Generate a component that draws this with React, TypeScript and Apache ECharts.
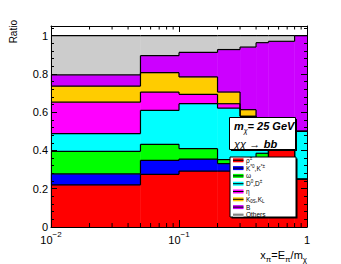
import React, { useEffect, useRef } from 'react';
import * as echarts from 'echarts';

// Bin edges in x = E_pi / m_chi
const binEdges = [0.01, 0.05, 0.1, 0.2, 0.3, 0.4, 0.5, 0.8, 1];

// Fractions per bin (stacked from bottom)
const rhoFrac = [0.22, 0.275, 0.292, 0.292, 0.3, 0.31, 0.4, 0.25];
const kstarFrac = [0.058, 0.073, 0.063, 0.039, 0.03, 0.04, 0, 0];
const omegaFrac = [0.117, 0.084, 0.054, 0.021, 0.02, 0.035, 0, 0];
const dFrac = [0.093, 0.177, 0.235, 0.269, 0.228, 0.175, 0.16, 0.25];
const etaFrac = [0.164, 0.096, 0.049, 0.023, 0, 0, 0, 0];
const k0Frac = [0.084, 0.101, 0.091, 0.061, 0.035, 0, 0, 0];
const bFrac = [0.059, 0.089, 0.128, 0.222, 0.327, 0.403, 0.41, 0.5];
const othersFrac = [0.205, 0.105, 0.088, 0.073, 0.06, 0.037, 0.03, 0];

const seriesNames = ['rho', 'Kstar', 'omega', 'D', 'eta', 'K0', 'B', 'Others'];
const seriesColors = ['#ff0000', '#0000ff', '#00ff00', '#00ffff', '#ff00ff', '#ffcc00', '#cc00ff', '#cccccc'];
const legendLabels = [
  '{m|ρ}{sup|±}',
  '{m|K}{sup|*0}{m|,K}{sup|*±}',
  '{m|ω}',
  '{m|D}{sup|0}{m|,D}{sup|±}',
  '{m|η}',
  '{m|K}{sub|0S}{m|,K}{sub|L}',
  '{m|B}',
  '{m|Others}',
];

// Log-axis tick positions
const xMinorTicks = [0.02, 0.03, 0.04, 0.05, 0.06, 0.07, 0.08, 0.09, 0.2, 0.3, 0.4, 0.5, 0.6, 0.7, 0.8, 0.9];

const FONT = 'Liberation Sans';

export default function App() {
  const ref = useRef<HTMLDivElement>(null);

  useEffect(() => {
    if (!ref.current) return;
    const chart = echarts.init(ref.current, undefined, { renderer: 'svg' });

    const fracs = [rhoFrac, kstarFrac, omegaFrac, dFrac, etaFrac, k0Frac, bFrac, othersFrac];
    const nBins = binEdges.length - 1;
    const cumBottom = new Array(nBins).fill(0);

    const lineStyle = { stroke: '#000', lineWidth: 1.2 };

    const stackSeries = fracs.map((fr, li) => {
      const data: number[][] = [];
      const tops: number[] = [];
      for (let b = 0; b < nBins; b++) {
        const bot = cumBottom[b];
        const top = bot + fr[b];
        tops.push(top);
        data.push([binEdges[b], binEdges[b + 1], bot, top, b === 0 ? -1 : 0]);
        cumBottom[b] = top;
      }
      for (let b = 1; b < nBins; b++) data[b][4] = tops[b - 1];
      const color = seriesColors[li];
      return {
        type: 'custom',
        name: seriesNames[li],
        coordinateSystem: 'cartesian2d',
        clip: false,
        silent: true,
        encode: { x: [0, 1], y: [2, 3] },
        data,
        renderItem: (params: any, api: any) => {
          const lo = api.value(0);
          const hi = api.value(1);
          const bot = api.value(2);
          const top = api.value(3);
          const prev = api.value(4);
          const bl = api.coord([lo, bot]);
          const tr = api.coord([hi, top]);
          const children: any[] = [];
          if (bl[1] - tr[1] > 0.01) {
            children.push({
              type: 'rect',
              z2: 1,
              shape: { x: bl[0], y: tr[1], width: tr[0] - bl[0], height: bl[1] - tr[1] },
              style: { fill: color, stroke: color, lineWidth: 0.5 },
            });
          }
          children.push({
            type: 'line',
            z2: 10,
            shape: { x1: bl[0], y1: tr[1], x2: tr[0], y2: tr[1] },
            style: lineStyle,
          });
          if (prev >= 0) {
            const pp = api.coord([lo, prev]);
            children.push({
              type: 'line',
              z2: 10,
              shape: { x1: bl[0], y1: pp[1], x2: bl[0], y2: tr[1] },
              style: lineStyle,
            });
          }
          return { type: 'group', children };
        },
      };
    });

    const minorTickSeries = {
      type: 'custom',
      coordinateSystem: 'cartesian2d',
      silent: true,
      clip: false,
      z: 10,
      encode: { x: 0, y: 1 },
      data: xMinorTicks.map((v) => [v, 0]),
      renderItem: (params: any, api: any) => {
        const x = api.value(0);
        const b = api.coord([x, 0]);
        const t = api.coord([x, 1.05]);
        return {
          type: 'group',
          children: [
            { type: 'line', shape: { x1: b[0], y1: b[1], x2: b[0], y2: b[1] - 4 }, style: { stroke: '#000', lineWidth: 1 } },
            { type: 'line', shape: { x1: t[0], y1: t[1], x2: t[0], y2: t[1] + 3.5 }, style: { stroke: '#000', lineWidth: 1 } },
          ],
        };
      },
    };

    const axisLineBlack = { show: true, onZero: false, lineStyle: { color: '#000', width: 1 } };

    const xLabelRich = {
      b: { fontSize: 11, fontFamily: FONT, color: '#000', lineHeight: 15, verticalAlign: 'bottom' },
      s: { fontSize: 8, fontFamily: FONT, color: '#000', lineHeight: 15, verticalAlign: 'top' },
    };

    const legendX = 230;
    const legendY = 157;
    const legendRowY0 = 160.3;
    const legendRowStep = 7.8;

    const legendGraphics: any[] = [
      { type: 'rect', z: 100, shape: { x: legendX + 1.5, y: legendY + 1.5, width: 66, height: 60 }, style: { fill: '#000' } },
      { type: 'rect', z: 101, shape: { x: legendX, y: legendY, width: 66, height: 60 }, style: { fill: '#fff', stroke: '#000', lineWidth: 1 } },
    ];
    seriesNames.forEach((_, i) => {
      const cy = legendRowY0 + i * legendRowStep;
      legendGraphics.push({
        type: 'rect',
        z: 102,
        shape: { x: 233, y: cy - 2, width: 10.5, height: 4 },
        style: { fill: seriesColors[i] },
      });
      legendGraphics.push({
        type: 'line',
        z: 103,
        shape: { x1: 233, y1: cy, x2: 243.5, y2: cy },
        style: { stroke: i === 7 ? '#555' : '#000', lineWidth: 1 },
      });
      legendGraphics.push({
        type: 'text',
        z: 103,
        x: 246,
        y: cy,
        style: {
          text: legendLabels[i],
          align: 'left',
          verticalAlign: 'middle',
          rich: {
            m: { fontSize: 6.5, fontFamily: FONT, fill: '#000', lineHeight: 9, verticalAlign: 'middle' },
            sup: { fontSize: 4.5, fontFamily: FONT, fill: '#000', lineHeight: 9, verticalAlign: 'top' },
            sub: { fontSize: 4.5, fontFamily: FONT, fill: '#000', lineHeight: 9, verticalAlign: 'bottom' },
          },
        },
      });
    });

    const option: any = {
      animation: false,
      backgroundColor: '#fff',
      grid: { left: 51, right: 34, top: 26, bottom: 37, containLabel: false },
      xAxis: [
        {
          type: 'log',
          logBase: 10,
          min: 0.01,
          max: 1,
          position: 'bottom',
          z: 10,
          axisLine: axisLineBlack,
          axisTick: { show: true, inside: true, length: 7, lineStyle: { color: '#000', width: 1 } },
          splitLine: { show: false },
          axisLabel: {
            margin: 3,
            formatter: (v: number) => {
              if (v >= 0.999) return '{b|1}';
              const e = Math.round(Math.log10(v));
              return '{b|10}{s|−' + Math.abs(e) + '}';
            },
            rich: xLabelRich,
          },
        },
        {
          type: 'log',
          logBase: 10,
          min: 0.01,
          max: 1,
          position: 'top',
          z: 10,
          axisLine: axisLineBlack,
          axisTick: { show: true, inside: true, length: 6, lineStyle: { color: '#000', width: 1 } },
          splitLine: { show: false },
          axisLabel: { show: false },
        },
      ],
      yAxis: [
        {
          type: 'value',
          min: 0,
          max: 1.05,
          interval: 0.2,
          position: 'left',
          z: 10,
          axisLine: axisLineBlack,
          axisTick: { show: true, inside: true, length: 6, lineStyle: { color: '#000', width: 1 } },
          minorTick: { show: true, splitNumber: 5, length: 3, lineStyle: { color: '#000', width: 1 } },
          splitLine: { show: false },
          minorSplitLine: { show: false },
          axisLabel: {
            margin: 3,
            fontSize: 11,
            fontFamily: FONT,
            color: '#000',
            showMaxLabel: false,
            formatter: (v: number) => (v > 1.001 ? '' : String(Math.round(v * 10) / 10)),
          },
        },
        {
          type: 'value',
          min: 0,
          max: 1.05,
          interval: 0.2,
          position: 'right',
          z: 10,
          axisLine: axisLineBlack,
          axisTick: { show: true, inside: true, length: 6, lineStyle: { color: '#000', width: 1 } },
          minorTick: { show: true, splitNumber: 5, length: 3, lineStyle: { color: '#000', width: 1 } },
          splitLine: { show: false },
          minorSplitLine: { show: false },
          axisLabel: { show: false },
        },
      ],
      series: [...stackSeries, minorTickSeries],
      graphic: [
        {
          type: 'text',
          z: 100,
          x: 13,
          y: 20,
          rotation: Math.PI / 2,
          style: { text: 'Ratio', align: 'right', verticalAlign: 'middle', fontSize: 10, fontFamily: FONT, fill: '#000' },
        },
        {
          type: 'text',
          z: 100,
          x: 307,
          y: 256,
          style: {
            text: '{m|x}{s|π}{m|=E}{s|π}{m|/m}{s|χ}',
            align: 'right',
            verticalAlign: 'middle',
            rich: {
              m: { fontSize: 11, fontFamily: FONT, fill: '#000', lineHeight: 14, verticalAlign: 'top' },
              s: { fontSize: 8, fontFamily: FONT, fill: '#000', lineHeight: 14, verticalAlign: 'bottom' },
            },
          },
        },
        { type: 'rect', z: 100, shape: { x: 231, y: 119, width: 66, height: 32 }, style: { fill: '#000' } },
        { type: 'rect', z: 101, shape: { x: 229.5, y: 117.5, width: 66, height: 32 }, style: { fill: '#fff', stroke: '#000', lineWidth: 1 } },
        {
          type: 'text',
          z: 102,
          x: 234,
          y: 127,
          style: {
            text: '{bi|m}{sub|χ}{bi|= 25 GeV}',
            align: 'left',
            verticalAlign: 'middle',
            rich: {
              bi: { fontSize: 11, fontFamily: FONT, fontWeight: 'bold', fontStyle: 'italic', fill: '#000', lineHeight: 14, verticalAlign: 'top' },
              sub: { fontSize: 7, fontFamily: FONT, fontStyle: 'italic', fill: '#000', lineHeight: 14, verticalAlign: 'bottom' },
            },
          },
        },
        {
          type: 'text',
          z: 102,
          x: 234,
          y: 144,
          style: {
            text: '{i|χχ} {r|→} {bi|bb}',
            align: 'left',
            verticalAlign: 'middle',
            rich: {
              i: { fontSize: 11, fontFamily: FONT, fontStyle: 'italic', fill: '#000' },
              r: { fontSize: 11, fontFamily: FONT, fill: '#000' },
              bi: { fontSize: 11, fontFamily: FONT, fontWeight: 'bold', fontStyle: 'italic', fill: '#000' },
            },
          },
        },
        ...legendGraphics,
      ],
    };

    chart.setOption(option);
    return () => chart.dispose();
  }, []);

  return (
    <div
      ref={ref}
      style={{ position: 'fixed', left: 0, top: 0, width: 341, height: 264, background: '#fff' }}
    />
  );
}
